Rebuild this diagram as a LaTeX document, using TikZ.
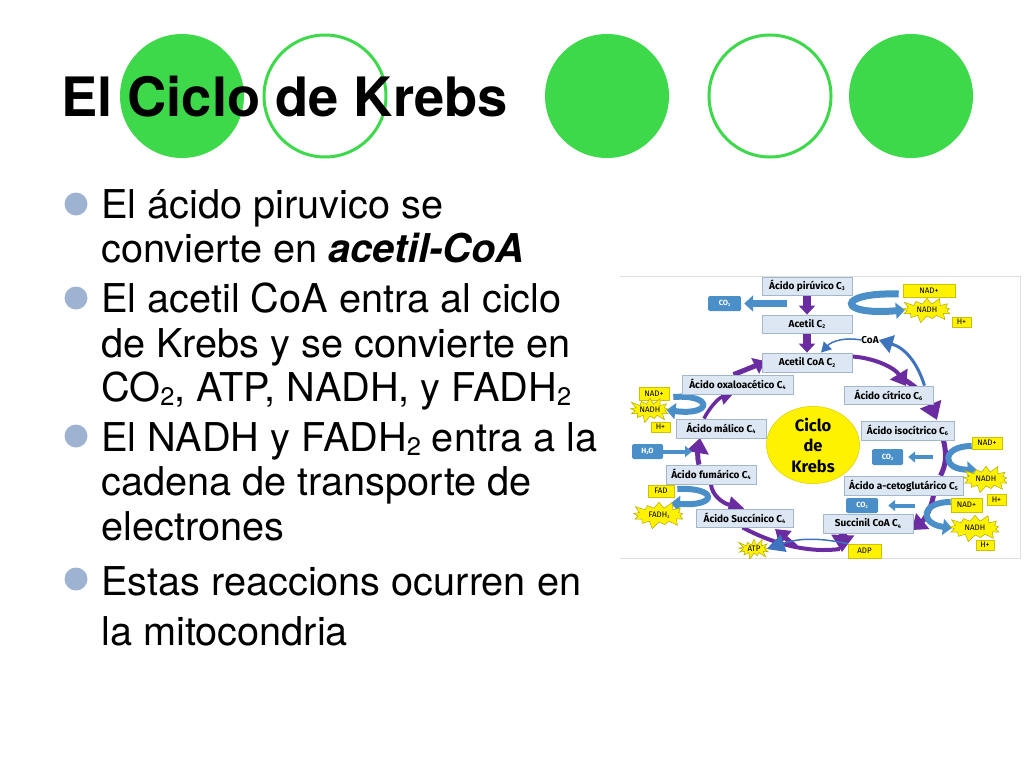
\documentclass[tikz,border=0pt]{standalone}
\usepackage{fontspec}
\setmainfont{TeX Gyre Heros}
\newfontfamily\dfont{Fira Sans}
\usetikzlibrary{arrows.meta,backgrounds,calc,shapes.symbols,shapes.geometric}
\definecolor{grn}{HTML}{3ED84B}
\definecolor{bul}{HTML}{9DB3D1}
\definecolor{pur}{HTML}{6A2CA0}
\definecolor{blu}{HTML}{4A8FC7}
\definecolor{blud}{HTML}{3F73BE}
\definecolor{boxf}{HTML}{DCE7F3}
\definecolor{boxd}{HTML}{A3B7CC}
\definecolor{yel}{HTML}{FFF200}
\tikzset{
 disc/.style={circle,fill=grn,minimum size=124pt,inner sep=0pt},
 ring/.style={circle,draw=grn,line width=3pt,fill=none,minimum size=122pt,inner sep=0pt},
 bullet/.style={circle,fill=bul,minimum size=23pt,inner sep=0pt},
 body/.style={anchor=north west,align=left,inner sep=0pt,font=\fontsize{39.7}{44.5}\selectfont},
 acid/.style={rectangle,draw=boxd,line width=.8pt,fill=boxf,inner sep=0pt,font=\dfont\bfseries\fontsize{10}{11}\selectfont},
 co/.style={rectangle,rounded corners=1.5pt,fill=blu,inner sep=0pt,text=white,font=\dfont\bfseries\fontsize{7.5}{8}\selectfont},
 tag/.style={rectangle,draw=yel!80!black,line width=.6pt,fill=yel,inner sep=0pt,font=\dfont\fontsize{8}{9}\selectfont},
 burst/.style={starburst,starburst points=13,starburst point height=8pt,draw=yel!70!black,line width=.5pt,fill=yel,inner sep=0pt,font=\dfont\fontsize{8}{9}\selectfont},
 pa/.style={draw=pur,line width=8pt,-{Triangle[width=16pt,length=9pt]}},
 pb/.style={draw=pur,line width=5pt,-{Triangle[width=20pt,length=14pt]}},
 ba/.style={draw=blu,line width=7pt,-{Triangle[width=16pt,length=9pt]}},
 bs/.style={draw=blu,line width=4pt,-{Triangle[width=11pt,length=7pt]}},
 bd/.style={draw=blud,line width=3pt,-{Triangle[width=18pt,length=14pt]}},
 lbl/.style={inner sep=0pt,font=\dfont\bfseries\fontsize{10}{11}\selectfont},
}
\newcommand{\sbs}[1]{\raisebox{-.12em}{\scalebox{.55}{#1}}}
\newcommand{\lsub}[1]{\raisebox{-.1em}{\scalebox{.64}{#1}}}
\newcommand{\bx}[7]{\node[#2,minimum width=#5pt-#3pt,minimum height=#6pt-#4pt] (#1) at ({(#3+#5)/2},{(#4+#6)/2}) {#7};}
\begin{document}
\begin{tikzpicture}[x=1pt,y=-1pt]
\useasboundingbox (0,0) rectangle (1024,768);
% slide decoration
\node[disc] (c1) at (182,96) {};
\node[ring] (c2) at (325,96) {};
\node[disc] (c3) at (607,96) {};
\node[ring] (c4) at (770,96) {};
\node[disc] (c5) at (911,96) {};
\node[anchor=base west,inner sep=0pt,font=\bfseries\fontsize{54.3}{60}\selectfont] (title) at (61,116) {El Ciclo de Krebs};
% bullets
\node[bullet] (b1) at (76,204) {};
\node[bullet] (b2) at (76,298) {};
\node[bullet] (b3) at (76,436) {};
\node[bullet] (b4) at (76,579) {};
\node[body] (p1) at (101,189) {El ácido piruvico se\\convierte en \textbf{\textit{acetil-CoA}}};
\node[body] (p2) at (101,283) {El acetil CoA entra al ciclo\\de Krebs y se convierte en\\CO\lsub{2}, ATP, NADH, y FADH\lsub{2}};
\node[body] (p3) at (101,422) {El NADH y FADH\lsub{2} entra a la\\cadena de transporte de\\electrones};
\node[body,font=\fontsize{39.7}{50}\selectfont] (p4) at (101,566) {Estas reaccions ocurren en\\la mitocondria};
% image frame
\draw[black!12,line width=1pt] (620,276) -- (1020,276) -- (1020,558) -- (620,558);
% ellipse
\node[ellipse,fill=yel,draw=yel!85!black,line width=.5pt,minimum width=93pt,minimum height=75pt,inner sep=0pt,align=center,font=\dfont\bfseries\fontsize{16.5}{20.5}\selectfont] (ciclo) at (813,445) {Ciclo\\de\\Krebs};
% acid boxes
\bx{pir}{acid}{762}{277}{852}{295}{Ácido pirúvico C\sbs{3}}
\bx{ace}{acid}{762}{315}{852}{333}{Acetil C\sbs{2}}
\bx{acoa}{acid}{762}{353}{852}{372}{Acetil CoA C\sbs{2}}
\bx{oxa}{acid}{682}{375}{793}{394}{Ácido oxaloacético C\sbs{4}}
\bx{cit}{acid}{844}{386}{933}{404}{Ácido cítrico C\sbs{6}}
\bx{mal}{acid}{676}{419}{766}{438}{Ácido málico C\sbs{4}}
\bx{iso}{acid}{861}{421}{954}{440}{Ácido isocítrico C\sbs{6}}
\bx{fum}{acid}{666}{465}{756}{484}{Ácido fumárico C\sbs{4}}
\bx{aceto}{acid}{844}{476}{963}{495}{Ácido a-cetoglutárico C\sbs{5}}
\bx{suc}{acid}{696}{509}{793}{527}{Ácido Succínico C\sbs{4}}
\bx{scoa}{acid}{823}{514}{913}{533}{Succinil CoA C\sbs{4}}
% CO2 / H2O
\bx{co1}{co}{708}{296}{741}{311}{CO\sbs{2}}
\bx{co2}{co}{872}{449}{903}{465}{CO\sbs{2}}
\bx{co3}{co}{846}{498}{878}{513}{CO\sbs{2}}
\bx{agua}{co}{632}{444}{663}{459}{H\sbs{2}O}
% yellow tags
\bx{nad1}{tag}{903}{284}{955}{297}{NAD+}
\bx{h1}{tag}{952}{317}{971}{327}{H+}
\bx{nad2}{tag}{639}{387}{669}{400}{NAD+}
\bx{h2}{tag}{651}{422}{670}{432}{H+}
\bx{fad}{tag}{648}{485}{674}{497}{FAD}
\bx{nad3}{tag}{972}{437}{1002}{449}{NAD+}
\bx{h3}{tag}{987}{494}{1006}{505}{H+}
\bx{nad4}{tag}{951}{498}{982}{512}{NAD+}
\bx{h4}{tag}{976}{540}{994}{550}{H+}
\bx{adp}{tag}{848}{544}{881}{558}{ADP}
% bursts
\node[burst,minimum width=56pt,minimum height=28pt] (nadh1) at (927,310) {NADH};
\node[burst,minimum width=46pt,minimum height=28pt] (nadh2) at (650,410) {NADH};
\node[burst,minimum width=52pt,minimum height=30pt] (nadh3) at (986,479) {NADH};
\node[burst,minimum width=58pt,minimum height=30pt] (nadh4) at (975,528) {NADH};
\node[burst,minimum width=58pt,minimum height=30pt] (fadh) at (659,515) {FADH\sbs{2}};
\node[burst,minimum width=38pt,minimum height=24pt] (atp) at (754,549) {ATP};
\node[lbl] (coa) at (870,340) {CoA};
% free ends
\coordinate (tm) at (906,386);
\coordinate (t1) at (937,420);
\coordinate (t2) at (842,552);
\coordinate (t3) at (912,530);
\coordinate (t4) at (700,438);
\coordinate (t6) at (733,394);
\coordinate (t7) at (765,361);
\coordinate (t8) at (775,529);
\coordinate (t9) at (796,547);
\begin{scope}[on background layer]
% purple cycle
\draw[pa] (pir.south) -- (ace.north);
\draw[pa] (ace.south) -- (acoa.north);
\draw[pb,line width=4pt] (acoa.east) ++(0,-6) .. controls (875,358) and (895,368) .. (tm);
\draw[pb,-{Triangle[width=22pt,length=17pt]}] (tm) ++(-8,-10) .. controls (915,385) and (928,398) .. (t1);
\draw[draw=pur,line width=5pt] (iso.south) ++(36,0) .. controls (947,455) and (946,465) .. ($(aceto.north)+(37,0)$);
\draw[pb] (aceto.south) ++(30,0) .. controls (931,510) and (924,520) .. (t3);
\draw[pb,line width=8pt,-{Triangle[width=22pt,length=17pt]}] (scoa.south) ++(-25,-5) -- (t2);
\draw[pur,line width=4pt] (t2) ++(-2,-3) .. controls (810,553) and (775,545) .. ($(suc.south)+(-2,0)$);
\draw[pb,-{Triangle[width=18pt,length=14pt]}] (t9) -- (t8);
\draw[pb,line width=4pt,-{Triangle[width=16pt,length=16pt]}] (fum.south) .. controls (712,495) and (722,503) .. (suc.north);
\draw[pb,-{Triangle[width=22pt,length=15pt]}] (fum.north) ++(-12,0) .. controls (697,458) and (698,450) .. (t4);
\draw[pb,line width=3.5pt,-{Triangle[width=15pt,length=12pt]}] (mal.north) ++(-17,0) .. controls (708,410) and (718,398) .. (t6);
\draw[pb,-{Triangle[width=17pt,length=11pt]}] (oxa.north) ++(-4,0) .. controls (745,370) and (755,366) .. (t7);
% blue U-turns
\draw[ba] (nad1.west) ++(-4,3.5) .. controls (836,292) and (836,316) .. (nadh1.west);
\draw[ba,line width=6pt] (nad2.east) ++(4,3.5) .. controls (713,394) and (713,416) .. (nadh2.east);
\draw[ba,line width=6pt] (fad.east) ++(3,-2) .. controls (718,487) and (718,507) .. (fadh.north east);
\draw[ba,line width=6pt] (nad3.west) ++(0,3) .. controls (941,446) and (941,470) .. (nadh3.north west);
\draw[ba,line width=6pt] (nad4.west) ++(0,-3) .. controls (920,502) and (920,524) .. (nadh4.west);
% blue straight
\draw[ba,shorten >=3pt] (787,303.5) -- (co1.east);
\draw[bs,shorten >=5pt] (933,457) -- (co2.east);
\draw[bs,shorten >=10pt] (915,505.5) -- (co3.east);
\draw[bs] (agua.east) -- (692,451.5);
% darker blue
\draw[bd] (cit.north) ++(36,0) .. controls (917,362) and (905,348) .. (coa.east);
\draw[bd,line width=1.5pt,-{Triangle[width=11pt,length=10pt]}] (coa.west) .. controls (845,337) and (832,341) .. ($(acoa.north)+(14,0)$);
\draw[bd,line width=1.5pt,-{Triangle[width=18pt,length=18pt]}] (adp.north west) .. controls (830,540) and (805,536) .. (atp.east);
\end{scope}
\fill[white] (620,558.5) rectangle (1020,570);
\end{tikzpicture}
\end{document}
